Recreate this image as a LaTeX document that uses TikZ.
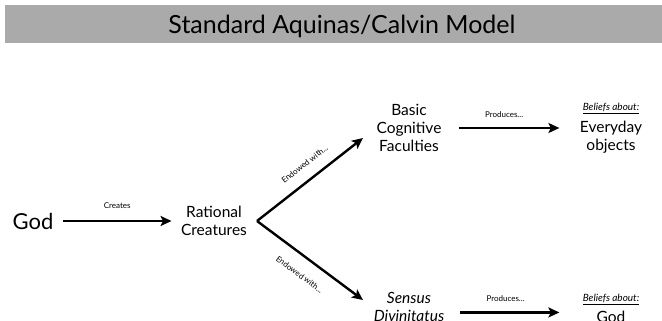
\documentclass[tikz,border=0pt]{standalone}
\usepackage{fontspec}
\setmainfont{Lato}
\usepackage{tikz}
\usetikzlibrary{positioning,arrows.meta}
\definecolor{bandgray}{HTML}{AAAAAA}

\begin{document}
\begin{tikzpicture}[x=1pt,y=-1pt,
  arr/.style={line width=2.4pt,-{Stealth[length=11pt,width=10pt,inset=2.5pt]}},
  lbl/.style={font=\fontsize{8}{9}\selectfont},
  big/.style={font=\fontsize{15.5}{18}\selectfont,align=center},
  blf/.style={font=\fontsize{10}{11}\selectfont\itshape}]
  \useasboundingbox (0,0) rectangle (662,321);
  \clip (0,0) rectangle (662,321);
  % title band
  \fill[bandgray] (5,5) rectangle (662,43);
  \node[font=\fontsize{25}{28}\selectfont] (ttl) at (342,26) {Standard Aquinas/Calvin Model};
  % main chain
  \node[font=\fontsize{22}{24}\selectfont] (god) at (33,221) {God};
  \node[big] (rat) at (214,221) {Rational\\Creatures};
  \draw[arr,shorten <=6pt,shorten >=6pt] (god) -- (rat) node[midway,above=8pt,lbl]{Creates};
  % the fork
  \coordinate (fork) at (257,221);
  \coordinate (tipb) at (363,138);
  \coordinate (tips) at (363,300);
  \draw[arr] (fork) -- (tipb) node[pos=0.54,sloped,above=8pt,lbl]{Endowed with...};
  \draw[arr] (fork) -- (tips) node[pos=0.5,sloped,below=10pt,lbl]{Endowed with...};
  % faculties
  \node[big] (basic) at (409,128) {Basic\\Cognitive\\Faculties};
  \node[big] (sens) at (409,307) {\itshape Sensus\\\itshape Divinitatus};
  % beliefs
  \node[big] (evd) at (611,137) {Everyday\\objects};
  \node[blf,above=0pt of evd] (blfa) {\underline{Beliefs about:}};
  \node[big] (gdb) at (611,317) {God};
  \node[blf,above=-1pt of gdb] (blfb) {\underline{Beliefs about:}};
  \draw[arr,shorten <=14pt,shorten >=17pt] (basic.east) -- (basic.east -| evd.west) node[pos=0.45,above=6pt,lbl]{Produces...};
  \draw[arr,shorten <=12pt,shorten >=17pt] (sens.-8) -- (sens.-8 -| evd.west) node[pos=0.45,above=6pt,lbl]{Produces...};
\end{tikzpicture}
\end{document}
